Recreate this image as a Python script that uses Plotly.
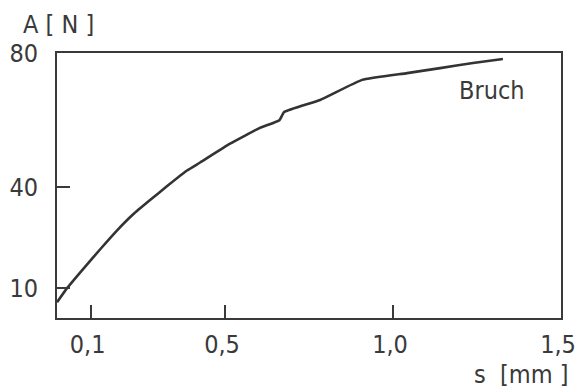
import plotly.graph_objects as go

# Data
s_mm = [0.0, 0.030, 0.077, 0.128, 0.179, 0.226, 0.277, 0.327, 0.387, 0.426, 0.515, 0.604, 0.662,
        0.676, 0.783, 0.908, 1.042, 1.140, 1.238, 1.327]
force_N = [5.8, 10.0, 15.6, 21.5, 27.2, 31.9, 36.2, 40.3, 45.0, 47.4, 53.0, 57.7, 60.0,
           62.4, 66.0, 72.0, 74.0, 75.5, 77.0, 78.2]

x_tickvals = [0.1, 0.5, 1.0, 1.5]
x_ticktext = ["0,1", "0,5", "1,0", "1,5"]
y_tickvals = [10, 40, 80]
y_ticktext = ["10", "40", "80"]

ink = "#3a3a3a"
font = dict(family="DejaVu Sans Condensed, DejaVu Sans", size=25, color=ink)

fig = go.Figure()
fig.add_trace(go.Scatter(x=s_mm, y=force_N, mode="lines",
                         line=dict(color="#333333", width=2.6, shape="spline", smoothing=0.4),
                         hoverinfo="skip", showlegend=False))

fig.update_layout(
    width=579, height=390,
    margin=dict(l=57, r=18, t=53, b=72, autoexpand=False),
    paper_bgcolor="white", plot_bgcolor="white",
    font=font,
    xaxis=dict(range=[0, 1.5], tickvals=x_tickvals, ticktext=x_ticktext,
               ticks="inside", ticklen=13, tickwidth=1.5, tickcolor=ink,
               showline=True, linecolor=ink, linewidth=2, mirror=True, automargin=False,
               showgrid=False, zeroline=False, tickfont=font, ticklabelstandoff=3,
               ticklabelshift=-3, ticklabeloverflow="allow"),
    yaxis=dict(range=[1.1, 80], tickvals=y_tickvals, ticktext=y_ticktext,
               ticks="inside", ticklen=13, tickwidth=1.5, tickcolor=ink,
               showline=True, linecolor=ink, linewidth=2, mirror=True, automargin=False,
               showgrid=False, zeroline=False, tickfont=font, ticklabelstandoff=12,
               ticklabeloverflow="allow"),
    annotations=[
        dict(text="A [ N ]", xref="paper", yref="paper", x=0.002, y=1.106,
             xanchor="center", yanchor="middle", showarrow=False, font=font),
        dict(text="Bruch", xref="paper", yref="paper", x=0.863, y=0.86,
             xanchor="center", yanchor="middle", showarrow=False, font=font),
        dict(text="s\u00a0\u00a0[mm\u00a0]", xref="paper", yref="paper", x=1.02, y=-0.215,
             xanchor="right", yanchor="middle", showarrow=False, font=font),
    ],
)

fig.write_html("out.html", config={"displayModeBar": False},
               post_script="document.body.style.margin='0px';")
